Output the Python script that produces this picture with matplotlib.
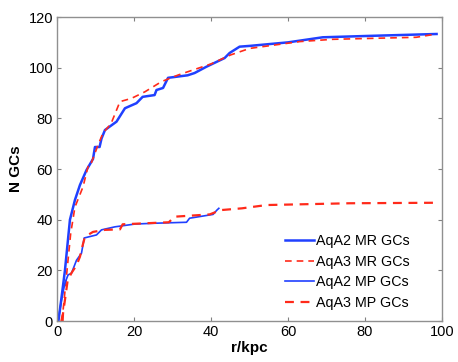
import numpy as np
import matplotlib
matplotlib.use('Agg')
import matplotlib.pyplot as plt

plt.rcParams['font.family'] = ['Liberation Sans', 'DejaVu Sans']

# AqA2 MR GCs (blue, thick solid)
mr2_r = [0.3, 1, 2, 3.3, 4.6, 5.9, 7.6, 9.3, 9.8, 11, 11.5, 12.4, 15.4, 17.6, 20.6, 22.2,
         25.3, 25.8, 27.5, 28.8, 33.9, 35.7, 38.8, 43.5, 44.8, 47.4, 50, 60, 69, 80, 98.6]
mr2_n = [0, 8, 20, 40, 47.8, 53.7, 59.6, 64, 68.7, 68.7, 72, 75.4, 78.7, 84, 86, 88.5,
         89.2, 91.2, 92, 96, 97, 97.9, 100.4, 103.8, 105.8, 108.3, 108.6, 110, 112, 112.5, 113.3]

# AqA3 MR GCs (red, dashed)
mr3_r = [1, 1.5, 2.8, 3.5, 4.6, 6.7, 8, 8.5, 10.6, 11.9, 14, 16.3, 19.3, 22.8, 27.1,
         31.4, 35.3, 40, 45, 50, 63, 71.6, 93.3, 98.6]
mr3_n = [0, 4, 24, 34.7, 45, 53, 61, 61, 69.5, 74.2, 78, 86.6, 87.9, 90.5, 94.5,
         97.1, 99.1, 101.5, 105, 107.6, 110.3, 111.2, 112, 113.3]

# AqA2 MP GCs (blue, thin solid)
mp2_r = [0.2, 1.1, 2, 2.8, 3.7, 5, 6.3, 7, 10.2, 11.5, 15, 20.2, 25, 33.6, 34.4, 40.5, 41.5, 42]
mp2_n = [0, 8.3, 15, 18.2, 18.9, 24, 26.8, 32.8, 34, 36, 37.2, 38.3, 38.6, 39, 40.6, 42.1, 43.8, 44.5]

# AqA3 MP GCs (red, dashed)
mp3_r = [1.4, 1.5, 2, 2.7, 3.7, 5, 5.9, 6.5, 7.2, 9.3, 12.4, 16.3, 17, 29, 30.5, 39.6,
         42.5, 48, 54.4, 76, 98.5]
mp3_n = [0, 3, 8.3, 16, 19, 22, 25.4, 29.3, 33.3, 35.2, 36, 36.2, 38.2, 39, 41.2, 42.1,
         43.8, 44.5, 45.8, 46.5, 46.7]

blue = '#2040ff'
red = '#ff2a1a'

fig = plt.figure(figsize=(4.58, 3.62), dpi=100)
ax = fig.add_axes([0.125, 0.113, 0.84, 0.84])

ax.plot(mr2_r, mr2_n, color=blue, lw=1.8, label='AqA2 MR GCs')
ax.plot(mr3_r, mr3_n, color=red, lw=1.2, ls=(0, (4, 3)), label='AqA3 MR GCs')
ax.plot(mp2_r, mp2_n, color=blue, lw=1.2, label='AqA2 MP GCs')
ax.plot(mp3_r, mp3_n, color=red, lw=1.6, ls=(0, (4, 3)), label='AqA3 MP GCs')

ax.set_xlim(0, 100)
ax.set_ylim(0, 120)
ax.set_xticks(np.arange(0, 101, 20))
ax.set_yticks(np.arange(0, 121, 20))
ax.tick_params(direction='in', top=True, right=True, length=3, color='#808080',
               labelsize=10.5, pad=3)
for s in ax.spines.values():
    s.set_color('#909090')
    s.set_linewidth(1.0)

ax.set_xlabel('r/kpc', fontsize=11, fontweight='bold', labelpad=1)
ax.set_ylabel('N GCs', fontsize=11, fontweight='bold', labelpad=4)

ax.legend(loc='upper left', frameon=False, fontsize=10.3, handlelength=2.0,
          handletextpad=0.2, labelspacing=0.45, borderpad=0, borderaxespad=0,
          bbox_to_anchor=(0.592, 0.285))

fig.savefig('out.png', dpi=100)
